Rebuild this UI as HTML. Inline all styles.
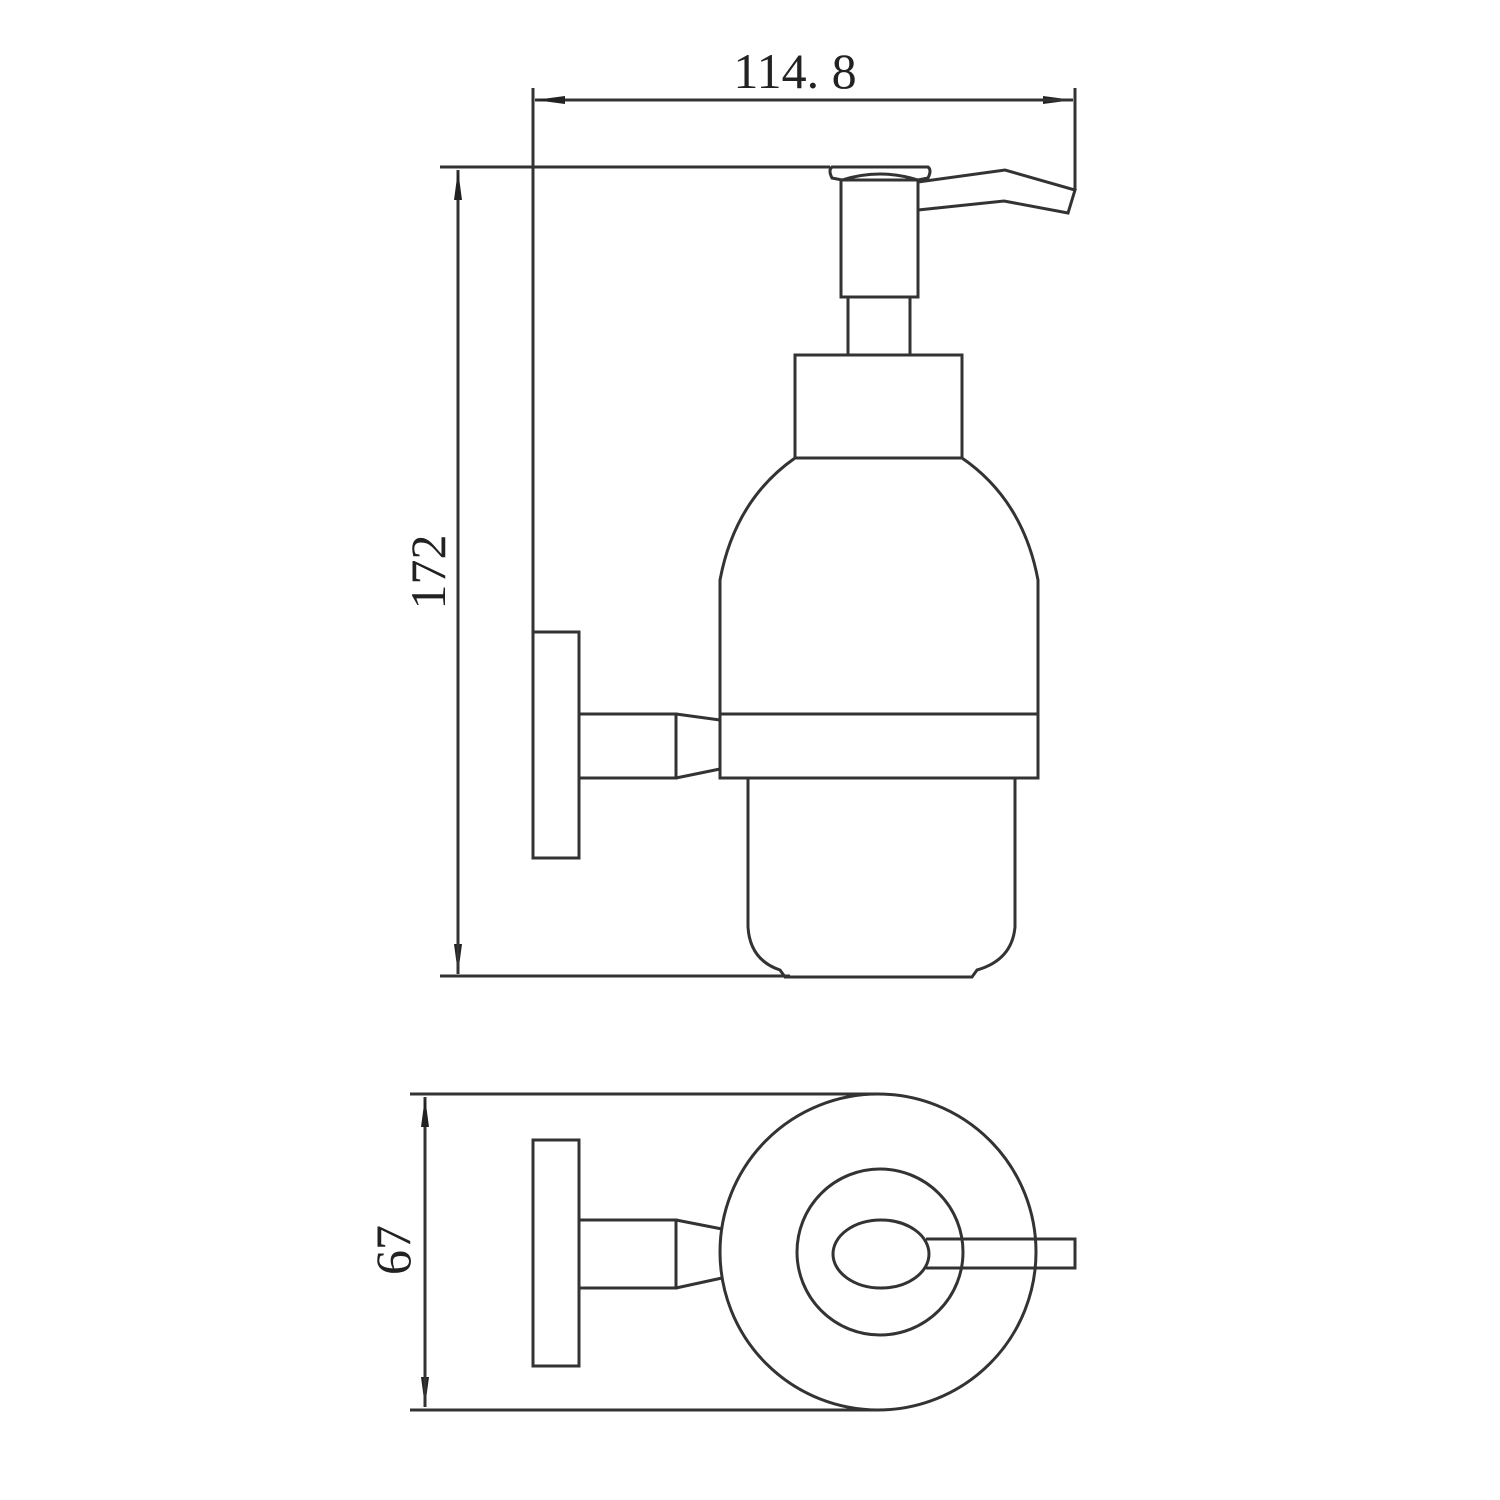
<!DOCTYPE html>
<html><head><style>body{margin:0;background:#fff}svg{display:block}</style></head><body>
<svg width="1500" height="1500" viewBox="0 0 1500 1500" xmlns="http://www.w3.org/2000/svg">
<defs>
<marker id="a" viewBox="0 0 30 10" refX="30" refY="5" markerWidth="30" markerHeight="10" markerUnits="userSpaceOnUse" orient="auto">
<path d="M0,1 L30,5 L0,9 z" fill="#222"/></marker>
</defs>
<g fill="none" stroke="#333" stroke-width="3">
<!-- side view dims -->
<line x1="533" y1="88" x2="533" y2="632"/>
<path d="M1075,88 L1075,190"/>
<line x1="535" y1="100" x2="1073" y2="100" marker-end="url(#a)"/>
<line x1="1073" y1="100" x2="535" y2="100" marker-end="url(#a)"/>
<line x1="440" y1="167" x2="830" y2="167"/>
<line x1="440" y1="976" x2="790" y2="976"/>
<line x1="458" y1="170" x2="458" y2="974" marker-end="url(#a)"/>
<line x1="458" y1="974" x2="458" y2="170" marker-end="url(#a)"/>
<!-- pump -->
<path d="M832,167 L928,167 Q932,170 928,178 L918,180 Q880,168 842,180 L832,178 Q828,170 832,167 z"/>
<rect x="841" y="180" width="77" height="117"/>
<path d="M918,182 L1005,170 L1075,190 L1068,213 L1004,201 L918,210"/>
<rect x="848" y="297" width="62" height="58"/>
<rect x="795" y="355" width="167" height="103"/>
<path d="M795,458 Q735,500 720,580 L720,778 L1038,778 L1038,580 Q1023,500 962,458"/>
<line x1="720" y1="714" x2="1038" y2="714"/>
<path d="M748,778 L748,927 Q750,960 780,970 L785,977 L972,977 L977,970 Q1012,960 1015,927 L1015,778"/>
<rect x="533" y="632" width="46" height="226"/>
<path d="M579,714 L676,714 L676,778 L579,778"/>
<path d="M676,714 L720,720 M676,778 L720,769"/>
<!-- top view -->
<line x1="410" y1="1094" x2="878" y2="1094"/>
<line x1="410" y1="1410" x2="878" y2="1410"/>
<line x1="425" y1="1097" x2="425" y2="1407" marker-end="url(#a)"/>
<line x1="425" y1="1407" x2="425" y2="1097" marker-end="url(#a)"/>
<circle cx="878" cy="1252" r="158"/>
<circle cx="880" cy="1252" r="83"/>
<ellipse cx="881" cy="1254" rx="48" ry="34"/>
<path d="M926,1239 L1075,1239 L1075,1268 L926,1268"/>
<rect x="533" y="1140" width="46" height="226"/>
<path d="M579,1220 L676,1220 L676,1288 L579,1288"/>
<path d="M676,1220 L722,1229 M676,1288 L722,1278"/>
</g>
<g font-family="Liberation Serif, serif" font-size="50" fill="#222">
<text x="795" y="88" text-anchor="middle">114. 8</text>
<text transform="translate(445,572) rotate(-90)" text-anchor="middle">172</text>
<text transform="translate(410,1250) rotate(-90)" text-anchor="middle">67</text>
</g>
</svg>
</body></html>
